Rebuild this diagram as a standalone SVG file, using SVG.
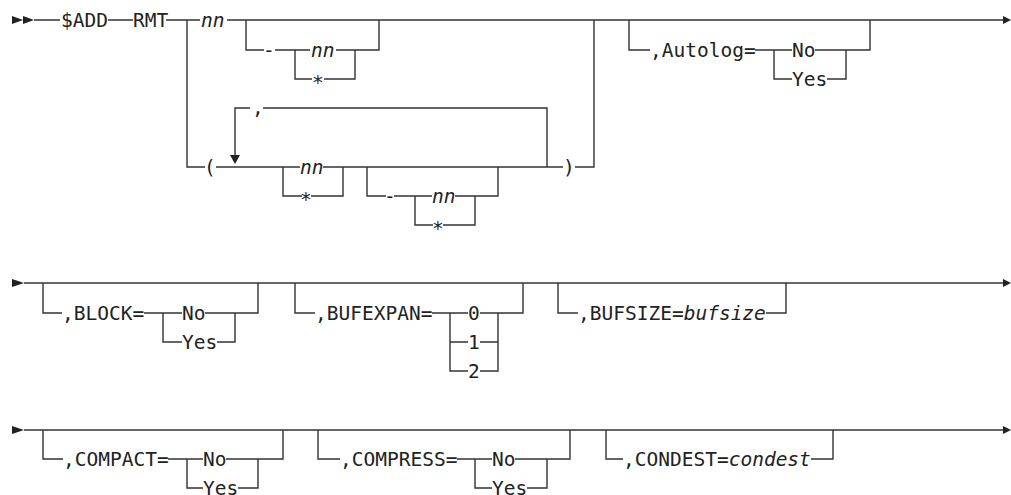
<svg xmlns="http://www.w3.org/2000/svg" width="1011" height="495" viewBox="0 0 1011 495">
<style>
  .ln { fill: none; stroke: #333; stroke-width: 1.4; }
  .ah { fill: #222; stroke: none; }
  text { font-family: "DejaVu Sans Mono", "Liberation Mono", monospace; font-size: 19.5px; fill: #222; }
  .it { font-style: italic; }
</style>
<rect width="1011" height="495" fill="#fff"/>
<g id="connectors">
  <!-- row 1 -->
  <path class="ah" d="M12 16 L23 20 L12 24 Z M23 16 L34 20 L23 24 Z"/>
  <path class="ln" d="M34 20 H60 M108 20 H133 M166 20 H200 M227 20 H1003"/>
  <path class="ah" d="M1003 16 L1011 20 L1003 24 Z"/>
  <path class="ln" d="M187 20 V167 H205"/>
  <path class="ln" d="M246 20 V50 H264 M275 50 H310 M336 50 H379 V20"/>
  <path class="ln" d="M295 50 V79 H312 M324 79 H355 V50"/>
  <path class="ln" d="M216 167 H300 M323 167 H563"/>
  <path class="ln" d="M250 108 H235 V156"/>
  <path class="ah" d="M230 155 L240 155 L235 164 Z"/>
  <path class="ln" d="M263 108 H547 V167"/>
  <path class="ln" d="M283 167 V196 H302 M311 196 H343 V167"/>
  <path class="ln" d="M367 167 V196 H386 M394 196 H432 M455 196 H498 V167"/>
  <path class="ln" d="M415 196 V225 H433 M443 225 H475 V196"/>
  <path class="ln" d="M575 167 H594 V20"/>
  <path class="ln" d="M629 20 V50 H650 M755 50 H792 M815 50 H870 V20"/>
  <path class="ln" d="M774 50 V79 H792 M827 79 H846 V50"/>
  <!-- row 2 -->
  <path class="ah" d="M12 279 L24 283 L12 287 Z"/>
  <path class="ln" d="M24 283 H1003"/>
  <path class="ah" d="M1003 279 L1011 283 L1003 287 Z"/>
  <path class="ln" d="M43 283 V313 H62 M144 313 H182 M205 313 H258 V283"/>
  <path class="ln" d="M163 313 V342 H182 M217 342 H235 V313"/>
  <path class="ln" d="M295 283 V313 H315 M432 313 H468 M480 313 H523 V283"/>
  <path class="ln" d="M450 313 V371 H468 M450 342 H468 M480 342 H498 M480 371 H498 V313"/>
  <path class="ln" d="M558 283 V313 H578 M766 313 H786 V283"/>
  <!-- row 3 -->
  <path class="ah" d="M12 426 L24 430 L12 434 Z"/>
  <path class="ln" d="M24 430 H1003"/>
  <path class="ah" d="M1003 426 L1011 430 L1003 434 Z"/>
  <path class="ln" d="M43 430 V459 H63 M168 459 H203 M226 459 H283 V430"/>
  <path class="ln" d="M187 459 V488 H203 M238 488 H258 V459"/>
  <path class="ln" d="M318 430 V459 H340 M457 459 H492 M515 459 H570 V430"/>
  <path class="ln" d="M475 459 V488 H492 M527 488 H547 V459"/>
  <path class="ln" d="M606 430 V459 H623 M811 459 H833 V430"/>
</g>
<g id="n-add"><text x="61" y="27">$ADD</text></g>
<g id="n-rmt"><text x="133" y="27">RMT</text></g>
<g id="n-nn1"><text class="it" x="201" y="27">nn</text></g>
<g id="n-dash1"><text x="263" y="57">-</text></g>
<g id="n-nn2"><text class="it" x="311" y="57">nn</text></g>
<g id="n-star1"><text x="312" y="89">*</text></g>
<g id="n-lparen"><text x="204" y="174">(</text></g>
<g id="n-comma"><text x="252" y="114">,</text></g>
<g id="n-nn3"><text class="it" x="300" y="174">nn</text></g>
<g id="n-star2"><text x="300" y="206">*</text></g>
<g id="n-dash2"><text x="384" y="203">-</text></g>
<g id="n-nn4"><text class="it" x="432" y="203">nn</text></g>
<g id="n-star3"><text x="432" y="235">*</text></g>
<g id="n-rparen"><text x="563" y="174">)</text></g>
<g id="n-autolog"><text x="650" y="57">,Autolog=</text></g>
<g id="n-autolog-no"><text x="792" y="57">No</text></g>
<g id="n-autolog-yes"><text x="792" y="86">Yes</text></g>
<g id="n-block"><text x="62" y="320">,BLOCK=</text></g>
<g id="n-block-no"><text x="182" y="320">No</text></g>
<g id="n-block-yes"><text x="182" y="349">Yes</text></g>
<g id="n-bufexpan"><text x="315" y="320">,BUFEXPAN=</text></g>
<g id="n-bufexpan-0"><text x="468" y="320">0</text></g>
<g id="n-bufexpan-1"><text x="468" y="349">1</text></g>
<g id="n-bufexpan-2"><text x="468" y="378">2</text></g>
<g id="n-bufsize"><text x="578" y="320">,BUFSIZE=<tspan class="it">bufsize</tspan></text></g>
<g id="n-compact"><text x="63" y="466">,COMPACT=</text></g>
<g id="n-compact-no"><text x="203" y="466">No</text></g>
<g id="n-compact-yes"><text x="203" y="495">Yes</text></g>
<g id="n-compress"><text x="340" y="466">,COMPRESS=</text></g>
<g id="n-compress-no"><text x="492" y="466">No</text></g>
<g id="n-compress-yes"><text x="492" y="495">Yes</text></g>
<g id="n-condest"><text x="623" y="466">,CONDEST=<tspan class="it">condest</tspan></text></g>
</svg>
